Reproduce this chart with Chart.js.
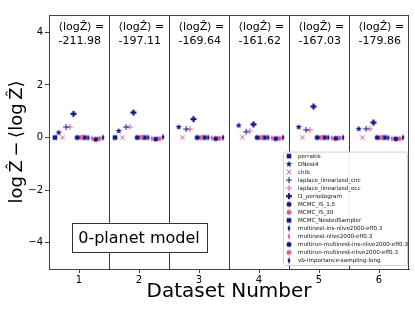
<!DOCTYPE html>
<html><head><meta charset="utf-8">
<script src="https://cdn.jsdelivr.net/npm/chart.js@4"></script>
<style>html,body{margin:0;padding:0;background:#fff}#wrap{width:415px;height:309px;position:relative}</style>
</head><body><div id="wrap"><canvas id="c"></canvas></div>
<script>
const datasetNumbers=[1,2,3,4,5,6];
const meanLogZ=['-211.98','-197.11','-169.64','-161.62','-167.03','-179.86'];
const yTicks=[-4,-2,0,2,4];
const methodNames=['perrakis','DNest4','chib','laplace_linearized_circ','laplace_linearized_ecc','l1_periodogram','MCMC_IS_1.5','MCMC_IS_30','MCMC_NestedSampler','multinest-ins-nlive2000-eff0.3','multinest-nlive2000-eff0.3','multirun-multinest-ins-nlive2000-eff0.3','multirun-multinest-nlive2000-eff0.3','vb-importance-sampling-long'];
const perrakis=[0.0,0.0,null,null,null,null];
const dnest4=[0.19,0.25,0.40,0.46,0.40,0.33];
const chib=[0.0,0.0,0.0,0.01,0.0,0.0];
const laplaceCirc=[0.40,0.40,0.32,0.22,0.29,0.33];
const laplaceEcc=[0.40,0.40,0.32,0.24,0.29,0.33];
const l1Periodogram=[0.90,0.95,0.70,0.50,1.18,0.57];
const mcmcIS15=[0.0,0.0,0.0,0.0,0.0,0.0];
const mcmcIS30=[0.01,0.01,0.0,0.0,0.0,0.0];
const mcmcNested=[0.0,0.0,0.0,0.0,0.0,0.0];
const multinestIns=[-0.01,0.0,0.0,0.0,0.0,-0.01];
const multinest=[-0.03,-0.04,-0.02,-0.02,-0.02,-0.04];
const multirunIns=[-0.07,-0.06,-0.04,-0.04,-0.03,-0.05];
const multirun=[-0.04,-0.04,-0.03,-0.03,-0.02,-0.04];
const vbIS=[0.0,0.02,0.0,0.0,0.0,0.0];

const seriesValues=[perrakis,dnest4,chib,laplaceCirc,laplaceEcc,l1Periodogram,mcmcIS15,mcmcIS30,mcmcNested,multinestIns,multinest,multirunIns,multirun,vbIS];
const NAVY='#16168a', PINK='#d9628e';
const styles=[['square',NAVY],['star',NAVY],['x',PINK],['plus',NAVY],['plus',PINK],['P',NAVY],['circle',NAVY],['circle',PINK],['square',NAVY],['tdiamond',NAVY],['tdiamond',PINK],['circle',NAVY],['circle',PINK],['tdiamond',NAVY]];

function marker(shape,color){
  const s=8,c=document.createElement('canvas');c.width=s;c.height=s;
  const g=c.getContext('2d'),m=s/2;g.fillStyle=color;g.strokeStyle=color;g.lineWidth=1;
  g.beginPath();
  if(shape==='square'){g.fillRect(m-2.3,m-2.3,4.6,4.6);}
  else if(shape==='circle'){g.arc(m,m,2.5,0,2*Math.PI);g.fill();}
  else if(shape==='star'){for(let k=0;k<10;k++){const r=k%2?1.4:3.3,a=-Math.PI/2+k*Math.PI/5;const px=m+r*Math.cos(a),py=m+r*Math.sin(a);k?g.lineTo(px,py):g.moveTo(px,py);}g.closePath();g.fill();}
  else if(shape==='x'){g.moveTo(m-2.4,m-2.4);g.lineTo(m+2.4,m+2.4);g.moveTo(m+2.4,m-2.4);g.lineTo(m-2.4,m+2.4);g.stroke();}
  else if(shape==='plus'){g.moveTo(m-3,m);g.lineTo(m+3,m);g.moveTo(m,m-3);g.lineTo(m,m+3);g.stroke();}
  else if(shape==='P'){g.fillRect(m-3,m-1.1,6,2.2);g.fillRect(m-1.1,m-3,2.2,6);}
  else if(shape==='tdiamond'){g.moveTo(m,m-3.2);g.lineTo(m+1.5,m);g.lineTo(m,m+3.2);g.lineTo(m-1.5,m);g.closePath();g.fill();}
  return c;
}
const markers=styles.map(s=>marker(s[0],s[1]));
const nM=methodNames.length;
function offset(i){return -0.4+i*0.8/(nM-1);}

const datasets=methodNames.map((name,i)=>({
  label:name,
  data:datasetNumbers.map((d,j)=>({x:d+offset(i),y:seriesValues[i][j]})).filter(p=>p.y!==null),
  pointStyle:markers[i],pointRadius:3,backgroundColor:styles[i][1],borderColor:styles[i][1],showLine:false
}));

const decor={
  id:'decor',
  beforeDatasetsDraw(ch){
    const {ctx,chartArea:a,scales:{x}}=ch;
    ctx.save();ctx.strokeStyle='#3a3a3a';ctx.lineWidth=1;
    for(let k=0;k<datasetNumbers.length-1;k++){
      const px=Math.round(x.getPixelForValue(datasetNumbers[k]+0.5))+0.5;
      ctx.beginPath();ctx.moveTo(px,a.top);ctx.lineTo(px,a.bottom);ctx.stroke();
    }
    ctx.restore();
  },
  afterDraw(ch){
    const {ctx,chartArea:a,scales:{x,y}}=ch;
    ctx.save();
    ctx.strokeStyle='#444';ctx.lineWidth=1;
    ctx.strokeRect(Math.round(a.left)+0.5,Math.round(a.top)+0.5,Math.round(a.right-a.left)-1,Math.round(a.bottom-a.top));
    // annotations
    ctx.fillStyle='#000';ctx.font='11px "DejaVu Sans"';ctx.textBaseline='middle';ctx.textAlign='left';
    datasetNumbers.forEach((d,j)=>{
      const px=x.getPixelForValue(d-0.34);
      ctx.fillText('\u27E8log\u1E90\u27E9 =',px,y.getPixelForValue(4.2));
      ctx.fillText(meanLogZ[j],px,y.getPixelForValue(3.66));
    });
    // model label
    ctx.font='16px "DejaVu Sans"';
    const lbl='0-planet model';const tw=ctx.measureText(lbl).width;
    const cx=x.getPixelForValue(2.0),cy=y.getPixelForValue(-3.8);
    const bw=tw+13,bh=29;
    ctx.fillStyle='#fff';ctx.fillRect(cx-bw/2,cy-bh/2,bw,bh);
    ctx.strokeStyle='#333';ctx.strokeRect(Math.round(cx-bw/2)+0.5,Math.round(cy-bh/2)+0.5,Math.round(bw),bh);
    ctx.fillStyle='#000';ctx.textAlign='center';ctx.fillText(lbl,cx,cy+1);
    // legend
    const step=8.03,right=a.right-2,bottom=a.bottom-4;
    const top=bottom-step*nM-1;const left=right-124;
    ctx.fillStyle='rgba(255,255,255,0.92)';
    ctx.beginPath();ctx.roundRect(left+0.5,top+0.5,right-left,bottom-top,2);ctx.fill();
    ctx.strokeStyle='#d0d0d0';ctx.stroke();
    ctx.font='5.6px "DejaVu Sans"';ctx.textAlign='left';ctx.fillStyle='#111';
    methodNames.forEach((nm,i)=>{
      const ey=top+4.5+i*step;
      ctx.drawImage(markers[i],left+6-4,ey-4);
      ctx.fillText(nm,left+15,ey+0.5);
    });
    ctx.restore();
  }
};

Chart.defaults.font.family='"DejaVu Sans"';
new Chart(document.getElementById('c'),{
  type:'scatter',
  data:{datasets},
  plugins:[decor],
  options:{
    responsive:true,maintainAspectRatio:false,animation:false,
    layout:{padding:{left:0,right:6,top:15,bottom:0}},
    plugins:{legend:{display:false},tooltip:{enabled:false}},
    scales:{
      x:{type:'linear',min:0.5,max:6.5,
        afterBuildTicks(s){s.ticks=datasetNumbers.map(v=>({value:v}));},
        afterFit(s){s.height=40;},
        ticks:{color:'#000',font:{size:10},padding:1,maxRotation:0,callback:v=>String(v)},
        grid:{display:true,drawOnChartArea:false,drawTicks:true,tickLength:4,color:'#444'},
        border:{display:true,color:'#444'},
        title:{display:true,text:'Dataset Number',color:'#000',font:{size:20},padding:{top:0,bottom:5}}
      },
      y:{min:-5,max:4.66,
        afterBuildTicks(s){s.ticks=yTicks.map(v=>({value:v}));},
        afterFit(s){s.width=49;},
        ticks:{color:'#000',font:{size:10},padding:2,callback:v=>v<0?'\u2212'+Math.abs(v):String(v)},
        grid:{display:true,drawOnChartArea:false,drawTicks:true,tickLength:4,color:'#444'},
        border:{display:true,color:'#444'},
        title:{display:true,text:'log\u2009\u1E90\u2009\u2212\u2009\u27E8log\u2009\u1E90\u27E9',color:'#000',font:{size:18},padding:{top:7,bottom:0}}
      }
    }
  }
});
</script></body></html>
